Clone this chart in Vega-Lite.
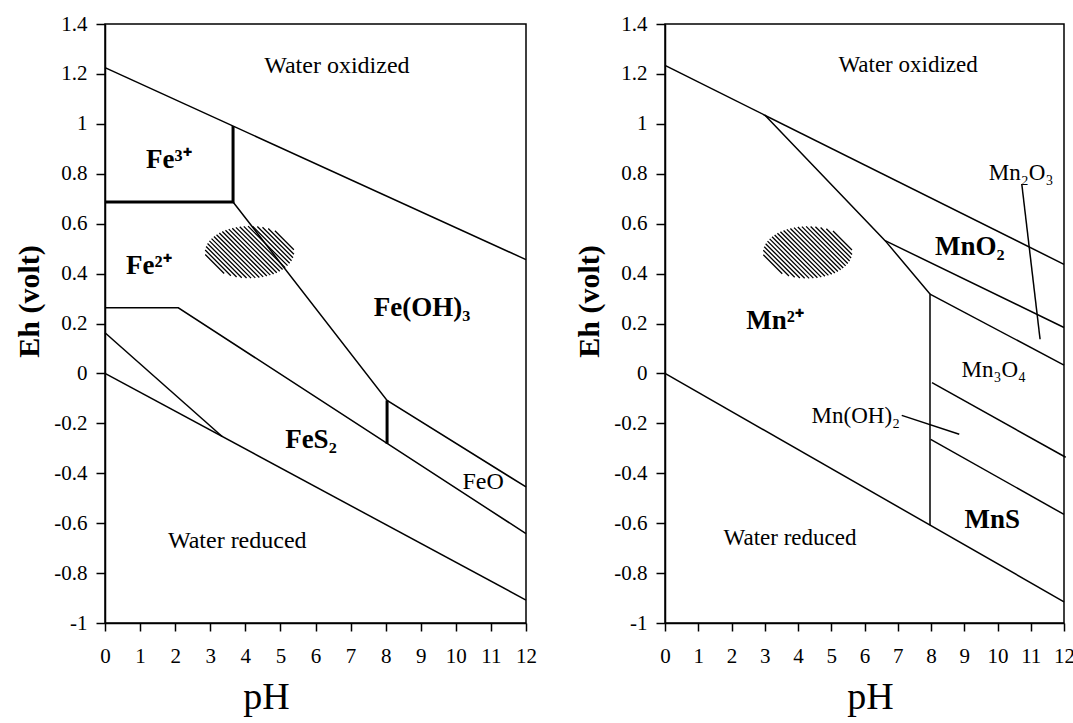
{
  "$schema": "https://vega.github.io/schema/vega-lite/v6.json",
  "background": "white",
  "padding": {"left": 14, "top": 12, "right": 2, "bottom": 2},
  "spacing": 36,
  "config": {
    "view": {"stroke": "black", "strokeWidth": 1.5},
    "font": "'Times New Roman', 'Liberation Serif', Times, serif",
    "axis": {
      "grid": false,
      "domainColor": "black",
      "domainWidth": 1.5,
      "tickColor": "black",
      "tickWidth": 1.5,
      "labelFont": "'Times New Roman', 'Liberation Serif', Times, serif",
      "labelFontSize": 21,
      "labelColor": "black",
      "labelFlush": false,
      "titleFont": "'Times New Roman', 'Liberation Serif', Times, serif",
      "titleColor": "black"
    },
    "text": {"font": "'Times New Roman', 'Liberation Serif', Times, serif", "color": "black"}
  },
  "datasets": {
    "feThin": [
      {"seg": "wup", "i": 1, "pH": 0, "Eh": 1.225},
      {"seg": "wup", "i": 2, "pH": 12, "Eh": 0.456},
      {"seg": "wdn", "i": 1, "pH": 0, "Eh": 0},
      {"seg": "wdn", "i": 2, "pH": 12, "Eh": -0.908},
      {"seg": "fe2oh", "i": 1, "pH": 3.65, "Eh": 0.687},
      {"seg": "fe2oh", "i": 2, "pH": 8.04, "Eh": -0.108},
      {"seg": "fe2oh", "i": 3, "pH": 12, "Eh": -0.455},
      {"seg": "fe2s", "i": 1, "pH": 0, "Eh": 0.263},
      {"seg": "fe2s", "i": 2, "pH": 2.09, "Eh": 0.263},
      {"seg": "fe2s", "i": 3, "pH": 12, "Eh": -0.642},
      {"seg": "slow", "i": 1, "pH": 0, "Eh": 0.163},
      {"seg": "slow", "i": 2, "pH": 3.34, "Eh": -0.253}
    ],
    "feBoldLines": [
      {"seg": "fe3", "i": 1, "pH": 0, "Eh": 0.687},
      {"seg": "fe3", "i": 2, "pH": 3.65, "Eh": 0.687},
      {"seg": "fe3", "i": 3, "pH": 3.65, "Eh": 0.991},
      {"seg": "feo", "i": 1, "pH": 8.04, "Eh": -0.108},
      {"seg": "feo", "i": 2, "pH": 8.04, "Eh": -0.282}
    ],
    "feBlob": [{"pH": 4.12, "Eh": 0.486}],
    "feBoldLabels": [
      {"t": "Fe³⁺", "pH": 1.82, "Eh": 0.823},
      {"t": "Fe²⁺", "pH": 1.25, "Eh": 0.398},
      {"t": "Fe(OH)₃", "pH": 9.04, "Eh": 0.23},
      {"t": "FeS₂", "pH": 5.87, "Eh": -0.299}
    ],
    "feNormLabels": [
      {"t": "Water oxidized", "pH": 6.61, "Eh": 1.204},
      {"t": "Water reduced", "pH": 3.77, "Eh": -0.7},
      {"t": "FeO", "pH": 10.78, "Eh": -0.463}
    ],
    "mnThin": [
      {"seg": "wup", "i": 1, "pH": 0, "Eh": 1.234},
      {"seg": "wup", "i": 2, "pH": 12, "Eh": 0.437},
      {"seg": "mn2", "i": 1, "pH": 3.0, "Eh": 1.035},
      {"seg": "mn2", "i": 2, "pH": 6.62, "Eh": 0.532},
      {"seg": "mn2", "i": 3, "pH": 7.97, "Eh": 0.318},
      {"seg": "mn2", "i": 4, "pH": 7.97, "Eh": -0.608},
      {"seg": "mno2", "i": 1, "pH": 6.62, "Eh": 0.532},
      {"seg": "mno2", "i": 2, "pH": 12, "Eh": 0.184},
      {"seg": "mn2o3", "i": 1, "pH": 7.97, "Eh": 0.318},
      {"seg": "mn2o3", "i": 2, "pH": 12, "Eh": 0.033},
      {"seg": "wdn", "i": 1, "pH": 0, "Eh": 0},
      {"seg": "wdn", "i": 2, "pH": 12, "Eh": -0.915},
      {"seg": "mn3o4", "i": 1, "pH": 8.03, "Eh": -0.037},
      {"seg": "mn3o4", "i": 2, "pH": 12.05, "Eh": -0.336},
      {"seg": "mnoh", "i": 1, "pH": 7.99, "Eh": -0.264},
      {"seg": "mnoh", "i": 2, "pH": 12, "Eh": -0.565},
      {"seg": "p1", "i": 1, "pH": 10.73, "Eh": 0.759},
      {"seg": "p1", "i": 2, "pH": 11.28, "Eh": 0.137},
      {"seg": "p2", "i": 1, "pH": 7.12, "Eh": -0.168},
      {"seg": "p2", "i": 2, "pH": 8.85, "Eh": -0.244}
    ],
    "mnBlob": [{"pH": 4.29, "Eh": 0.485}],
    "mnBoldLabels": [
      {"t": "MnO₂", "pH": 9.17, "Eh": 0.473},
      {"t": "Mn²⁺", "pH": 3.31, "Eh": 0.177},
      {"t": "MnS", "pH": 9.84, "Eh": -0.618}
    ],
    "mnNormLabels": [
      {"t": "Water oxidized", "pH": 7.31, "Eh": 1.207},
      {"t": "Water reduced", "pH": 3.76, "Eh": -0.687},
      {"t": "Mn₂O₃", "pH": 10.71, "Eh": 0.774},
      {"t": "Mn₃O₄", "pH": 9.89, "Eh": -0.016},
      {"t": "Mn(OH)₂", "pH": 5.74, "Eh": -0.197}
    ]
  },
  "hconcat": [
    {
      "width": 421,
      "height": 599,
      "encoding": {
        "x": {"field": "pH", "type": "quantitative",
          "scale": {"domain": [0, 12], "nice": false, "zero": false},
          "axis": {"values": [0,1,2,3,4,5,6,7,8,9,10,11,12], "title": "pH", "titleFontSize": 38, "titleFontWeight": "normal", "tickSize": 8, "labelPadding": 14, "titlePadding": 12, "titleX": 161}},
        "y": {"field": "Eh", "type": "quantitative",
          "scale": {"domain": [-1, 1.4], "nice": false, "zero": false},
          "axis": {"values": [-1,-0.8,-0.6,-0.4,-0.2,0,0.2,0.4,0.6,0.8,1,1.2,1.4], "labelExpr": "datum.value < 0 ? '-' + format(-datum.value, '.1~f') : format(datum.value, '.1~f')", "title": "Eh (volt)", "titleFontSize": 30, "titleFontWeight": "bold", "tickSize": 9, "labelPadding": 9, "titlePadding": 9, "titleY": 277}}
      },
      "layer": [
        {"data": {"name": "feThin"}, "mark": {"type": "line", "color": "black", "strokeWidth": 1.5}, "encoding": {"detail": {"field": "seg"}, "order": {"field": "i"}}},
        {"data": {"name": "feBoldLines"}, "mark": {"type": "line", "color": "black", "strokeWidth": 3}, "encoding": {"detail": {"field": "seg"}, "order": {"field": "i"}}},
        {"data": {"name": "feBlob"}, "mark": {"type": "point", "filled": false, "opacity": 1, "stroke": "black", "strokeWidth": 1.3, "size": 7921, "shape": "M0.570 -0.480L0.996 -0.054M0.420 -0.530L0.997 0.047M0.291 -0.559L0.976 0.126M0.175 -0.575L0.944 0.194M0.067 -0.583L0.902 0.252M-0.034 -0.584L0.854 0.304M-0.129 -0.579L0.800 0.350M-0.220 -0.570L0.742 0.392M-0.306 -0.556L0.679 0.429M-0.388 -0.538L0.612 0.462M-0.467 -0.517L0.541 0.491M0.467 0.517L-0.541 -0.491M0.388 0.538L-0.612 -0.462M0.306 0.556L-0.679 -0.429M0.220 0.570L-0.742 -0.392M0.129 0.579L-0.800 -0.350M0.034 0.584L-0.854 -0.304M-0.067 0.583L-0.902 -0.252M-0.175 0.575L-0.944 -0.194M-0.291 0.559L-0.976 -0.126M-0.420 0.530L-0.997 -0.047M-0.570 0.480L-0.996 0.054"}},
        {"data": {"name": "feBoldLabels"}, "mark": {"type": "text", "fontSize": 27, "fontWeight": "bold", "align": "center", "baseline": "alphabetic"}, "encoding": {"text": {"field": "t"}}},
        {"data": {"name": "feNormLabels"}, "mark": {"type": "text", "fontSize": 24, "align": "center", "baseline": "alphabetic"}, "encoding": {"text": {"field": "t"}}}
      ]
    },
    {
      "width": 399,
      "height": 599,
      "encoding": {
        "x": {"field": "pH", "type": "quantitative",
          "scale": {"domain": [0, 12], "nice": false, "zero": false},
          "axis": {"values": [0,1,2,3,4,5,6,7,8,9,10,11,12], "title": "pH", "titleFontSize": 38, "titleFontWeight": "normal", "tickSize": 8, "labelPadding": 14, "titlePadding": 12, "titleX": 205}},
        "y": {"field": "Eh", "type": "quantitative",
          "scale": {"domain": [-1, 1.4], "nice": false, "zero": false},
          "axis": {"values": [-1,-0.8,-0.6,-0.4,-0.2,0,0.2,0.4,0.6,0.8,1,1.2,1.4], "labelExpr": "datum.value < 0 ? '-' + format(-datum.value, '.1~f') : format(datum.value, '.1~f')", "title": "Eh (volt)", "titleFontSize": 30, "titleFontWeight": "bold", "tickSize": 9, "labelPadding": 9, "titlePadding": 9, "titleY": 277}}
      },
      "layer": [
        {"data": {"name": "mnThin"}, "mark": {"type": "line", "color": "black", "strokeWidth": 1.5, "clip": false}, "encoding": {"detail": {"field": "seg"}, "order": {"field": "i"}}},
        {"data": {"name": "mnBlob"}, "mark": {"type": "point", "filled": false, "opacity": 1, "stroke": "black", "strokeWidth": 1.3, "size": 7921, "shape": "M0.570 -0.480L0.996 -0.054M0.420 -0.530L0.997 0.047M0.291 -0.559L0.976 0.126M0.175 -0.575L0.944 0.194M0.067 -0.583L0.902 0.252M-0.034 -0.584L0.854 0.304M-0.129 -0.579L0.800 0.350M-0.220 -0.570L0.742 0.392M-0.306 -0.556L0.679 0.429M-0.388 -0.538L0.612 0.462M-0.467 -0.517L0.541 0.491M0.467 0.517L-0.541 -0.491M0.388 0.538L-0.612 -0.462M0.306 0.556L-0.679 -0.429M0.220 0.570L-0.742 -0.392M0.129 0.579L-0.800 -0.350M0.034 0.584L-0.854 -0.304M-0.067 0.583L-0.902 -0.252M-0.175 0.575L-0.944 -0.194M-0.291 0.559L-0.976 -0.126M-0.420 0.530L-0.997 -0.047M-0.570 0.480L-0.996 0.054"}},
        {"data": {"name": "mnBoldLabels"}, "mark": {"type": "text", "fontSize": 27, "fontWeight": "bold", "align": "center", "baseline": "alphabetic"}, "encoding": {"text": {"field": "t"}}},
        {"data": {"name": "mnNormLabels"}, "mark": {"type": "text", "fontSize": 23, "align": "center", "baseline": "alphabetic"}, "encoding": {"text": {"field": "t"}}}
      ]
    }
  ]
}
